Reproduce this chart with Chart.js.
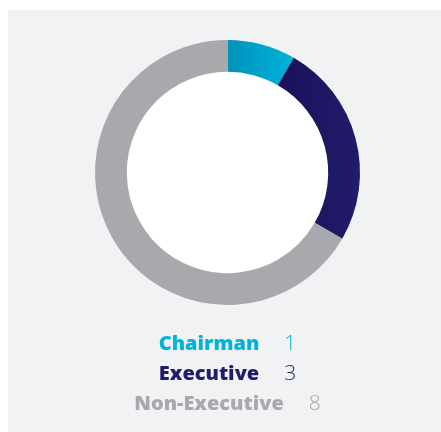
<!DOCTYPE html>
<html>
<head>
<meta charset="utf-8">
<script src="https://cdn.jsdelivr.net/npm/chart.js@4"></script>
<style>
  html, body { margin: 0; padding: 0; background: #fff; }
  #panel { position: absolute; left: 8px; top: 10px; width: 433px; height: 422px; background: #f1f2f4; }
  #chart { display: block; }
</style>
</head>
<body>
<div id="panel"><canvas id="chart" width="433" height="422"></canvas></div>
<script>
// board composition
var labels = ["Chairman", "Executive", "Non-Executive"];
var counts = [1, 3, 8];
var colors = ["#00b3da", "#211c6b", "#a8a9ad"];
var gradStart = ["#0092ba", "#19115a", "#a8a9ad"];

function segColor(ctx) {
	var chart = ctx.chart;
	var area = chart.chartArea;
	var i = ctx.dataIndex;
	if (!area || i == 2) return colors[i];
	var cx = (area.left + area.right) / 2;
	var r = (area.right - area.left) / 2;
	var x0 = i == 0 ? cx : cx + r * 0.38;
	var x1 = i == 0 ? cx + r * 0.5 : cx + r;
	var g = chart.ctx.createLinearGradient(x0, 0, x1, 0);
	g.addColorStop(0, gradStart[i]);
	g.addColorStop(1, colors[i]);
	return g;
}

// white hole in the middle of the ring
var whiteHole = {
	id: 'whiteHole',
	beforeDatasetsDraw: function(chart) {
		var arc = chart.getDatasetMeta(0).data[0];
		if (!arc) return;
		var c = chart.ctx;
		c.save();
		c.fillStyle = '#ffffff';
		c.beginPath();
		c.arc(arc.x, arc.y, arc.innerRadius + 1, 0, Math.PI * 2);
		c.fill();
		c.restore();
	}
};

// legend lines under the ring: bold label + light count, centred
var legendLines = {
	id: 'legendLines',
	afterDraw: function(chart) {
		var c = chart.ctx;
		var area = chart.chartArea;
		var cx = (area.left + area.right) / 2;
		var data = chart.data.datasets[0].data;
		var boldFont = '800 20px "Open Sans"';
		var lightFont = '300 21px "Open Sans"';
		c.save();
		c.textBaseline = 'alphabetic';
		c.textAlign = 'left';
		for (var i = 0; i < chart.data.labels.length; i++) {
			var y = 340 + i * 30;
			c.font = boldFont;
			var w1 = c.measureText(chart.data.labels[i]).width;
			c.font = lightFont;
			var w2 = c.measureText(String(data[i])).width;
			var gap = 25;
			var x = cx - (w1 + gap + w2) / 2;
			c.fillStyle = colors[i];
			c.font = boldFont;
			c.fillText(chart.data.labels[i], x, y);
			c.font = lightFont;
			c.fillText(String(data[i]), x + w1 + gap, y);
		}
		c.restore();
	}
};

new Chart(document.getElementById("chart"), {
	type: 'doughnut',
	data: {
		labels: labels,
		datasets: [{
			data: counts,
			backgroundColor: segColor,
			borderWidth: 0
		}]
	},
	options: {
		responsive: false,
		animation: false,
		cutout: '76%',
		layout: { padding: { top: 30, bottom: 127, left: 87, right: 81 } },
		plugins: {
			legend: { display: false },
			tooltip: { enabled: false }
		}
	},
	plugins: [whiteHole, legendLines]
});
</script>
</body>
</html>
